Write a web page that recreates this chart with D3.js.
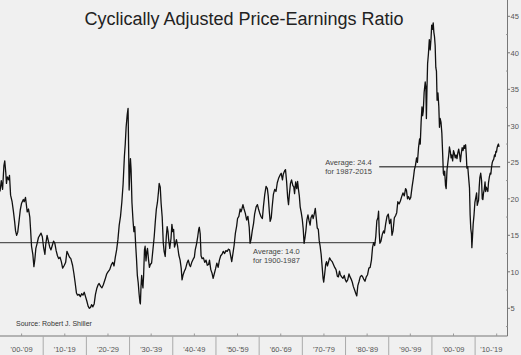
<!DOCTYPE html>
<html><head><meta charset="utf-8">
<script src="https://cdn.jsdelivr.net/npm/d3@7"></script>
<style>
html,body{margin:0;padding:0;background:#f0f0f0;}
svg{display:block;}
</style></head>
<body>
<script>
const title = "Cyclically Adjusted Price-Earnings Ratio";
const source = "Source: Robert J. Shiller";
const decadeLabels = ["'00-'09","'10-'19","'20-'29","'30-'39","'40-'49","'50-'59","'60-'69","'70-'79","'80-'89","'90-'99","'00-'09","'10-'19"];
const decadeStarts = [1900,1910,1920,1930,1940,1950,1960,1970,1980,1990,2000,2010];
const yTicks = [5,10,15,20,25,30,35,40,45];
const avgValues = [14.0, 24.4];
const avgFrom = [1900, 1987.8];
const avgTo = [1987, 2015.8];
const avgLabel1 = ["Average: 14.0", "Average: 24.4"];
const avgLabel2 = ["for 1900-1987", "for 1987-2015"];

const years = [
1900.0,1900.3,1900.6,1900.9,1901.1,1901.35,1901.5,1901.7,1902.0,1902.2,1902.45,1902.8,1903.1,1903.4,1903.6,1903.85,1904.1,1904.4,1904.7,1905.0,1905.4,1905.6,1905.9,1906.1,1906.3,1906.6,1906.9,1907.1,1907.3,1907.6,1907.85,1908.05,1908.3,1908.6,1908.9,1909.2,1909.5,1909.8,
1910.1,1910.4,1910.6,1910.9,1911.2,1911.5,1911.8,1912.1,1912.4,1912.7,1913.0,1913.3,1913.6,1913.9,1914.2,1914.5,1914.9,1915.2,1915.5,1915.8,1916.1,1916.4,1916.8,1917.1,1917.4,1917.7,1917.95,1918.3,1918.6,1918.9,1919.2,1919.5,1919.8,
1920.1,1920.4,1920.7,1920.95,1921.2,1921.5,1921.8,1922.1,1922.4,1922.7,1922.95,1923.3,1923.6,1923.9,1924.3,1924.7,1925.0,1925.4,1925.8,1926.1,1926.4,1926.7,1927.0,1927.3,1927.6,1927.9,1928.2,1928.5,1928.8,1929.0,1929.2,1929.45,1929.65,1929.8,1929.9,
1930.05,1930.2,1930.35,1930.55,1930.8,1931.0,1931.2,1931.4,1931.6,1931.8,1932.0,1932.2,1932.4,1932.5,1932.65,1932.8,1932.95,1933.1,1933.25,1933.45,1933.6,1933.8,1934.0,1934.15,1934.4,1934.6,1934.8,1935.1,1935.4,1935.7,1935.95,1936.2,1936.45,1936.7,1936.85,1937.1,1937.3,1937.55,1937.8,1938.0,1938.25,1938.5,1938.7,1938.9,1939.05,1939.3,1939.6,1939.8,
1940.0,1940.2,1940.4,1940.6,1940.85,1941.1,1941.4,1941.7,1941.95,1942.15,1942.4,1942.7,1942.95,1943.3,1943.6,1943.9,1944.1,1944.4,1944.7,1945.0,1945.2,1945.5,1945.8,1946.0,1946.15,1946.35,1946.55,1946.8,1947.1,1947.4,1947.7,1948.0,1948.3,1948.5,1948.8,1949.1,1949.35,1949.6,1949.9,
1950.2,1950.5,1950.8,1951.1,1951.4,1951.7,1952.0,1952.3,1952.6,1952.9,1953.15,1953.4,1953.65,1953.9,1954.2,1954.5,1954.8,1955.0,1955.3,1955.6,1955.8,1956.0,1956.25,1956.5,1956.8,1957.1,1957.4,1957.7,1957.9,1958.15,1958.4,1958.7,1958.95,1959.3,1959.6,1959.85,
1960.1,1960.4,1960.75,1961.0,1961.3,1961.6,1961.9,1962.1,1962.35,1962.55,1962.8,1963.0,1963.3,1963.6,1963.9,1964.2,1964.5,1964.8,1965.1,1965.4,1965.6,1965.95,1966.1,1966.35,1966.6,1966.8,1967.0,1967.25,1967.5,1967.8,1968.0,1968.2,1968.45,1968.7,1968.9,1969.1,1969.3,1969.5,1969.75,
1970.0,1970.2,1970.4,1970.6,1970.85,1971.05,1971.3,1971.55,1971.8,1972.0,1972.3,1972.5,1972.75,1973.0,1973.2,1973.45,1973.7,1973.9,1974.1,1974.35,1974.6,1974.8,1974.95,1975.15,1975.4,1975.6,1975.8,1976.0,1976.3,1976.6,1976.9,1977.2,1977.5,1977.8,1978.1,1978.35,1978.6,1978.8,1979.1,1979.4,1979.7,1979.95,
1980.2,1980.5,1980.8,1981.05,1981.3,1981.55,1981.8,1982.1,1982.4,1982.6,1982.85,1983.1,1983.4,1983.7,1983.9,1984.2,1984.5,1984.8,1985.1,1985.4,1985.7,1986.0,1986.25,1986.5,1986.75,1987.0,1987.25,1987.5,1987.65,1987.8,1987.95,1988.2,1988.5,1988.8,1989.0,1989.3,1989.6,1989.9,
1990.2,1990.5,1990.75,1991.0,1991.3,1991.6,1991.85,1992.1,1992.4,1992.7,1993.0,1993.3,1993.6,1993.9,1994.1,1994.35,1994.6,1994.85,1995.1,1995.4,1995.7,1995.95,1996.2,1996.45,1996.65,1996.9,1997.15,1997.3,1997.5,1997.7,1997.85,1998.0,1998.2,1998.45,1998.6,1998.72,1998.85,1999.0,1999.2,1999.4,1999.6,1999.8,1999.95,
2000.1,2000.3,2000.45,2000.6,2000.75,2000.9,2001.05,2001.2,2001.4,2001.6,2001.75,2001.9,2002.1,2002.3,2002.5,2002.65,2002.8,2002.95,2003.15,2003.3,2003.5,2003.7,2003.9,2004.05,2004.25,2004.45,2004.6,2004.8,2005.0,2005.2,2005.4,2005.6,2005.8,2006.0,2006.2,2006.45,2006.6,2006.8,2007.0,2007.2,2007.45,2007.6,2007.8,2007.95,2008.1,2008.3,2008.5,2008.7,2008.85,2009.0,2009.15,2009.25,2009.4,2009.55,2009.75,2009.95,
2010.2,2010.35,2010.5,2010.65,2010.8,2010.95,2011.1,2011.3,2011.5,2011.65,2011.8,2011.95,2012.1,2012.3,2012.45,2012.6,2012.8,2012.95,2013.1,2013.3,2013.5,2013.65,2013.8,2013.95,2014.1,2014.3,2014.5,2014.65,2014.8,2014.95,2015.1,2015.25,2015.4,2015.55
];
const cape = [
21.0,22.5,21.3,24.5,25.2,23.5,22.1,23.0,22.6,23.2,20.5,19.6,18.3,16.8,15.6,15.0,15.4,16.9,18.5,19.4,19.9,19.6,20.2,19.2,18.2,18.6,17.5,15.6,13.5,12.4,10.7,11.6,13.2,13.9,14.7,15.0,15.3,14.8,
13.3,12.4,13.8,15.0,14.2,13.4,13.0,13.6,14.2,13.9,12.9,12.2,11.8,12.0,11.4,10.5,10.9,11.3,12.8,12.4,12.0,11.8,10.9,9.8,8.5,7.1,6.8,6.9,6.6,7.0,6.8,7.2,6.6,
6.0,5.3,5.0,5.1,5.5,5.2,5.6,6.9,7.7,8.2,8.4,8.0,7.8,8.2,8.9,9.7,10.0,10.3,11.0,11.3,10.8,12.0,13.0,14.4,16.4,17.6,19.5,22.0,25.8,27.5,29.8,31.5,32.4,26.0,21.2,
23.5,25.5,24.0,19.5,17.0,15.5,16.2,13.8,11.8,9.5,8.5,7.0,5.8,5.6,8.0,9.5,8.4,7.8,9.5,13.0,13.5,11.5,12.8,13.2,11.6,10.6,11.0,11.2,13.0,14.8,16.8,18.6,19.5,21.0,22.1,21.6,19.4,17.5,14.0,12.8,12.1,14.8,16.2,15.5,14.4,13.2,14.6,16.5,
15.5,15.8,13.4,13.8,14.4,13.6,12.3,11.6,10.5,8.9,9.6,10.1,10.4,11.2,11.6,10.9,10.7,11.3,11.7,12.0,13.0,13.8,14.9,15.8,16.1,15.2,12.2,11.8,11.9,11.3,11.6,10.9,11.0,11.6,10.3,9.8,9.1,9.7,10.4,
11.2,10.6,11.6,12.2,12.4,12.8,12.5,12.9,12.8,13.1,13.0,12.2,11.4,12.4,13.6,15.3,16.3,17.3,17.6,18.6,18.2,18.6,19.2,18.6,18.0,17.1,17.6,16.1,13.9,14.5,15.6,16.6,17.9,18.9,19.2,18.6,
18.1,17.6,17.3,19.0,20.6,21.7,21.4,20.4,18.3,16.9,17.4,18.8,20.6,21.3,21.0,22.2,22.8,23.2,23.5,22.6,23.4,23.9,24.0,22.4,20.2,19.2,20.6,22.1,22.6,21.8,21.7,20.7,22.3,21.4,22.4,21.3,20.4,18.9,18.1,
17.1,15.9,13.9,14.6,15.8,17.1,17.8,17.0,16.4,17.4,17.8,17.3,17.9,18.7,17.5,16.0,15.8,14.3,13.6,12.4,10.6,9.1,8.6,9.6,11.0,11.4,10.8,11.2,11.9,11.6,11.4,11.0,10.6,10.3,9.4,9.3,10.1,9.6,9.3,9.1,9.5,8.9,
8.6,8.9,9.7,9.3,9.0,8.6,8.0,7.5,7.0,6.7,8.1,8.6,9.3,9.5,9.4,9.0,8.7,9.3,9.6,10.5,10.6,11.6,13.3,14.0,13.6,14.8,17.0,17.4,18.3,15.4,13.9,14.2,15.1,15.6,15.3,16.6,17.6,17.9,
16.6,17.2,15.0,15.6,17.4,17.7,18.1,19.6,19.3,19.7,20.3,20.8,20.4,21.4,21.2,20.0,20.3,19.9,20.2,21.6,22.8,24.0,24.6,25.6,25.0,27.0,28.2,27.5,30.5,32.6,31.4,32.0,34.6,36.0,35.2,31.0,34.9,38.5,39.9,41.8,40.4,42.0,43.8,
43.2,44.1,42.8,42.2,41.0,38.0,37.5,33.5,34.5,32.6,29.8,31.0,30.5,29.0,26.0,23.5,23.2,23.8,21.8,21.4,24.0,25.0,26.0,27.1,26.5,25.6,26.0,25.2,26.6,26.2,25.6,26.0,25.5,26.3,26.8,25.9,25.1,26.2,27.0,26.6,27.3,26.9,27.4,26.1,24.2,24.4,22.9,21.5,17.8,15.9,15.2,13.3,14.8,16.5,17.8,19.5,
20.3,20.8,19.1,19.5,19.8,21.6,22.9,23.5,22.5,20.0,19.9,20.8,21.2,22.3,21.0,21.6,21.3,21.0,22.2,23.0,23.5,23.4,24.3,24.9,25.2,25.4,26.0,25.8,26.5,26.4,27.0,27.3,27.5,27.1
];

const W = 521, H = 355;
const axisX = 507.5, axisY = 336;
const svg = d3.select("body").append("svg").attr("width", W).attr("height", H)
  .style("background", "#f0f0f0");

const x = d3.scaleLinear().domain([1900, 2017.5]).range([0, axisX]);
const y = d3.scaleLinear().domain([0, 45]).range([344.8, 16.3]);

// Title
svg.append("text").attr("x", 244).attr("y", 25).attr("text-anchor", "middle")
  .attr("font-family", "Liberation Sans, Arial, sans-serif").attr("font-size", 18)
  .attr("fill", "#222").text(title);

// Average lines
avgValues.forEach((v, i) => {
  svg.append("line").attr("x1", x(avgFrom[i])).attr("x2", x(avgTo[i]))
    .attr("y1", y(v)).attr("y2", y(v))
    .attr("stroke", "#555").attr("stroke-width", 1.4);
});

// Data line
const line = d3.line().x((d, i) => x(years[i])).y(d => y(d)).curve(d3.curveLinear);
svg.append("path").datum(cape).attr("d", line).attr("fill", "none")
  .attr("stroke", "#111").attr("stroke-width", 1.3).attr("stroke-linejoin", "round");

// Average annotations
const annoFont = "Liberation Sans, Arial, sans-serif";
const annoX = [x(1958.6), x(1975.3)];
const annoY = [y(14.0) + 11, y(24.4) - 1.5];
avgValues.forEach((v, i) => {
  const t = svg.append("text").attr("font-family", annoFont).attr("font-size", 7.5).attr("fill", "#444");
  t.append("tspan").attr("x", annoX[i]).attr("y", annoY[i]).text(avgLabel1[i]);
  t.append("tspan").attr("x", annoX[i]).attr("y", annoY[i] + 9).text(avgLabel2[i]);
});

// Source
svg.append("text").attr("x", 16).attr("y", 326).attr("font-family", annoFont)
  .attr("font-size", 7).attr("fill", "#333").text(source);

// Right axis
const gy = svg.append("g");
gy.append("line").attr("x1", axisX).attr("x2", axisX).attr("y1", 0).attr("y2", axisY)
  .attr("stroke", "#777").attr("stroke-width", 1);
yTicks.forEach(t => {
  gy.append("line").attr("x1", axisX).attr("x2", axisX + 2.5).attr("y1", y(t)).attr("y2", y(t))
    .attr("stroke", "#777");
  gy.append("line").attr("x1", axisX - 1.5).attr("x2", axisX).attr("y1", y(t - 2.5)).attr("y2", y(t - 2.5))
    .attr("stroke", "#999");
  gy.append("text").attr("x", axisX + 3).attr("y", y(t) + 2.7)
    .attr("font-family", annoFont).attr("font-size", 7.5).attr("fill", "#555").text(t);
});

// Bottom axis
const gx = svg.append("g");
gx.append("line").attr("x1", 0).attr("x2", axisX).attr("y1", axisY).attr("y2", axisY)
  .attr("stroke", "#777");
decadeStarts.forEach((d, i) => {
  const x0 = x(d), x1 = Math.min(x(d + 10), axisX);
  if (i > 0) gx.append("line").attr("x1", x0).attr("x2", x0).attr("y1", axisY).attr("y2", H)
    .attr("stroke", "#aaa");
  gx.append("line").attr("x1", x(d + 5)).attr("x2", x(d + 5)).attr("y1", axisY - 2.5).attr("y2", axisY)
    .attr("stroke", "#999");
  gx.append("text").attr("x", (x0 + x1) / 2).attr("y", 351.5).attr("text-anchor", "middle")
    .attr("font-family", annoFont).attr("font-size", 7.5).attr("fill", "#555").text(decadeLabels[i]);
});
</script>
</body></html>
